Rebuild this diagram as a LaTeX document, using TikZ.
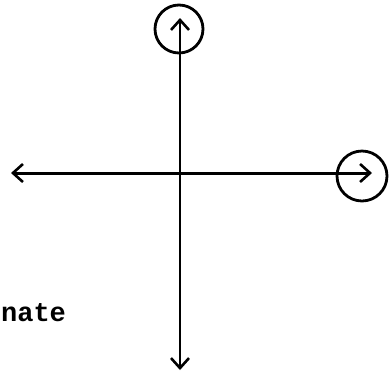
\documentclass[tikz,border=0pt]{standalone}
\usepackage{fontspec}
\setmonofont{Liberation Mono}
\usetikzlibrary{arrows.meta}
\begin{document}
\begin{tikzpicture}[x=1pt,y=-1pt,line width=2.2pt,
  axis/.style={-{Straight Barb[length=10pt,width=18pt,line width=2.6pt]}},
  ring/.style={circle,draw,line width=2.8pt,minimum size=48pt,inner sep=0pt}]
  \useasboundingbox (0,0) rectangle (390,376);
  % axes, drawn outward from the origin
  \coordinate (o) at (180,173);
  \coordinate (top) at (180,18);
  \coordinate (bot) at (180,370);
  \coordinate (left) at (11,173);
  \coordinate (right) at (372,173);
  \draw[axis] (o) -- (top);
  \draw[axis] (o) -- (bot);
  \draw[axis,line width=3pt] (o) -- (left);
  \draw[axis,line width=3pt] (o) -- (right);
  % circled tips
  \node[ring] (ctop) at (179,29) {};
  \node[ring,minimum size=50pt] (cright) at (362,176) {};
  % cut-off label
  \node[font=\ttfamily\bfseries\fontsize{27}{27}\selectfont,anchor=base west,inner sep=0pt] (lbl) at (0,321) {nate};
\end{tikzpicture}
\end{document}
